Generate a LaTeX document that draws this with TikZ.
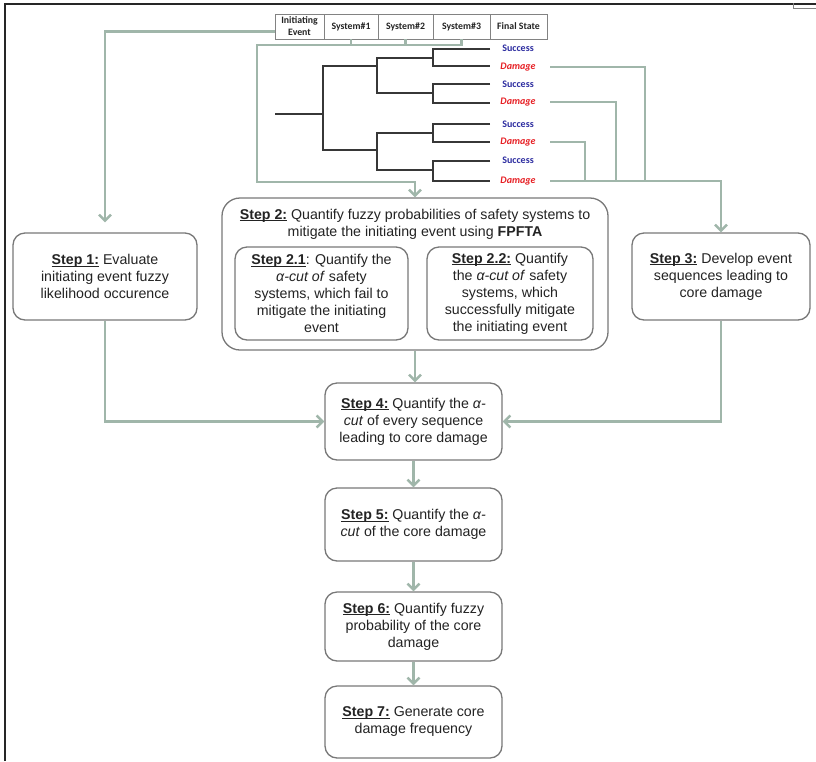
\documentclass[tikz,border=0pt]{standalone}
\usepackage{fontspec}
\setmainfont{Liberation Sans}
\newfontfamily\calibri{Carlito}
\usetikzlibrary{arrows.meta,calc}

\definecolor{link}{RGB}{160,182,170}
\definecolor{boxgray}{RGB}{120,120,120}
\definecolor{cellgray}{RGB}{130,130,130}
\definecolor{treeline}{RGB}{55,55,55}
\definecolor{txt}{RGB}{35,35,35}
\definecolor{succ}{RGB}{45,45,160}
\definecolor{dmg}{RGB}{230,30,35}

\tikzset{
  box/.style={draw=boxgray, line width=1.3pt, rounded corners=12pt, fill=white,
    align=center, text=txt, font=\fontsize{14.2}{17}\selectfont, inner sep=0pt},
  conn/.style={draw=link, line width=2.4pt},
  arr/.style={conn, -{Straight Barb[length=6pt,width=12pt]}},
  treeedge/.style={draw=treeline, line width=1.2pt},
  cell/.style={draw=cellgray, line width=0.8pt, minimum height=25pt, inner sep=0pt,
    text=txt, font=\calibri\bfseries\fontsize{9.8}{12}\selectfont, align=center},
  leaf/.style={minimum width=64pt, inner sep=0pt,
    font=\calibri\bfseries\fontsize{10}{10}\selectfont},
  okleaf/.style={leaf, text=succ},
  badleaf/.style={leaf, text=dmg, font=\calibri\bfseries\itshape\fontsize{10}{10}\selectfont},
}

% bold step label with an underline set just below the baseline
\newcommand{\stepname}[1]{\underline{\smash{\textbf{#1}}}}

\begin{document}
\begin{tikzpicture}[x=1pt,y=-1pt]
\useasboundingbox (0,0) rectangle (816,761);

% page frame
\draw[black!85, line width=2.5pt] (5,761) -- (5,4) -- (816,4);
\draw[cellgray, line width=0.8pt] (793,3) -- (793,8) -- (816,8);

% event tree header
\node[cell, minimum width=49pt] (ie) at (299.5,26.5) {Initiating\\Event};
\node[cell, minimum width=54pt] (h1) at (351,26.5) {System\#1};
\node[cell, minimum width=55pt] (h2) at (405.5,26.5) {System\#2};
\node[cell, minimum width=57pt] (h3) at (461.5,26.5) {System\#3};
\node[cell, minimum width=57pt] (fs) at (518.5,26.5) {Final State};

% event tree branches
\draw[treeedge] (275,114) -- (323,114);
\draw[treeedge] (377,66) -- (323,66) -- (323,150) -- (377,150);
\draw[treeedge] (433,58) -- (377,58) -- (377,93) -- (433,93);
\draw[treeedge] (433,133) -- (377,133) -- (377,170) -- (433,170);
\draw[treeedge] (490,49) -- (433,49) -- (433,66) -- (490,66);
\draw[treeedge] (490,84) -- (433,84) -- (433,103) -- (490,103);
\draw[treeedge] (490,124) -- (433,124) -- (433,142) -- (490,142);
\draw[treeedge] (490,161) -- (433,161) -- (433,181) -- (490,181);

% end states
\node[okleaf]  (L1) at (518,48)  {Success};
\node[badleaf] (L2) at (518,67)  {Damage};
\node[okleaf]  (L3) at (518,84)  {Success};
\node[badleaf] (L4) at (518,102) {Damage};
\node[okleaf]  (L5) at (518,124) {Success};
\node[badleaf] (L6) at (518,142) {Damage};
\node[okleaf]  (L7) at (518,160) {Success};
\node[badleaf] (L8) at (518,181) {Damage};

% process steps
\node[box, minimum width=184pt, minimum height=87pt] (s1) at (105,276.5)
  {\stepname{Step 1:} Evaluate\\initiating event fuzzy\\likelihood occurence};

\node[box, rounded corners=18pt, minimum width=386pt, minimum height=152pt] (s2) at (415,274) {};
\node[align=center, text=txt, font=\fontsize{14.2}{17}\selectfont, inner sep=0pt] (s2t) at (415,224)
  {\stepname{Step 2:} Quantify fuzzy probabilities of safety systems to\\mitigate the initiating event using \textbf{FPFTA}};
\node[box, minimum width=173pt, minimum height=93pt] (s21) at (321.5,293.5)
  {\stepname{Step 2.1}: Quantify the\\\textit{α-cut of} safety\\systems, which fail to\\mitigate the initiating\\event};
\node[box, minimum width=166pt, minimum height=93pt] (s22) at (510,293.5)
  {\stepname{Step 2.2:} Quantify\\the \textit{α-cut of} safety\\systems, which\\successfully mitigate\\the initiating event};

\node[box, minimum width=178pt, minimum height=87pt] (s3) at (721,276.5)
  {\stepname{Step 3:} Develop event\\sequences leading to\\core damage};

\node[box, minimum width=177pt, minimum height=77pt] (s4) at (413.5,421.5)
  {\stepname{Step 4:} Quantify the \textit{α-}\\\textit{cut} of every sequence\\leading to core damage};
\node[box, minimum width=177pt, minimum height=73pt] (s5) at (413.5,524.5)
  {\stepname{Step 5:} Quantify the \textit{α-}\\\textit{cut} of the core damage};
\node[box, minimum width=177pt, minimum height=69pt] (s6) at (413.5,626.5)
  {\stepname{Step 6:} Quantify fuzzy\\probability of the core\\damage};
\node[box, minimum width=177pt, minimum height=72pt] (s7) at (413.5,722)
  {\stepname{Step 7:} Generate core\\damage frequency};

% connectors from the event tree
\draw[arr] ([yshift=-5pt]ie.west) -| ([yshift=10pt]s1.north);

\coordinate (jl) at (257,45);
\coordinate (jb) at (257,182);
\draw[conn] (h1.south) -- (h1.south |- jl);
\draw[conn] (h2.south) -- (h2.south |- jl);
\draw[arr] (h3.south) |- (jl) -- (jb) -| (s2.north);

\coordinate (jd) at (645,181);
\coordinate (je) at (616,181);
\coordinate (jf) at (585,181);
\draw[conn] (L2.east) -| (jd);
\draw[conn] (L4.east) -| (je);
\draw[conn] (L6.east) -| (jf);
\draw[arr] (L8.east) -| (s3.north);

% connectors between steps
\draw[arr] (s1.south) |- (s4.west);
\draw[arr] (s3.south) |- (s4.east);
\draw[arr] (s2.south) -- (s2.south |- s4.north);
\draw[arr] (s4) -- (s5);
\draw[arr] (s5) -- (s6);
\draw[arr] (s6) -- (s7);
\end{tikzpicture}
\end{document}
